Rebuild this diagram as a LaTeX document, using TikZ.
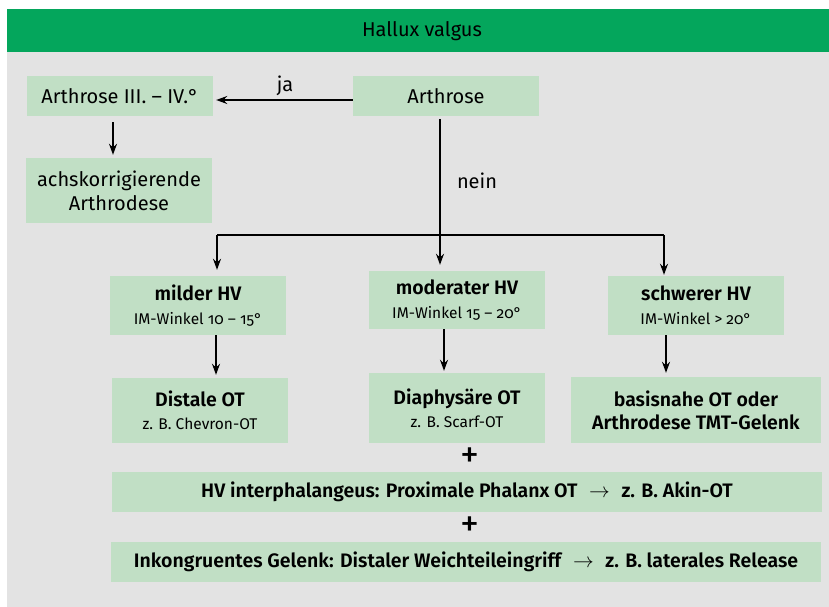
\documentclass[tikz,border=0pt]{standalone}
\usepackage{fontspec}
\setmainfont{Fira Sans}[Numbers=OldStyle, BoldFont={Fira Sans SemiBold}]
\usetikzlibrary{arrows.meta,calc}
\definecolor{hvgreen}{RGB}{4,166,92}
\definecolor{hvbox}{RGB}{193,223,197}
\definecolor{hvgrey}{RGB}{227,227,227}
\tikzset{
  box/.style={fill=hvbox, inner sep=0pt, align=center, anchor=center, text=black},
  arr/.style={line width=1.4pt, -{Stealth[length=11pt,width=8pt]}},
  ln/.style={line width=1.4pt},
  mainf/.style={font=\fontsize{20}{24}\selectfont},
  headf/.style={font=\fontsize{19.5}{23}\selectfont\bfseries},
  rowf/.style={font=\fontsize{19.5}{24}\selectfont\bfseries},
  lbl/.style={inner sep=0pt, font=\fontsize{20}{24}\selectfont},
  plusf/.style={inner sep=0pt, font=\fontsize{38}{38}\selectfont},
}
\newcommand{\hvsub}[1]{{\fontsize{15.5}{20}\selectfont\mdseries #1}}
\newcommand{\hvto}{\hspace{0.6em}$\rightarrow$\hspace{0.6em}}
\begin{document}
\begin{tikzpicture}[x=1pt,y=-1pt]
\useasboundingbox (0,0) rectangle (829,607);
\fill[hvgrey] (7,52) rectangle (829,607);
\fill[hvgreen] (7,9) rectangle (829,52);
\node[lbl] (title) at (422,31) {Hallux valgus};

\node[box, mainf, minimum width=186pt, minimum height=40pt] (a3) at (120,96) {Arthrose III. – IV.°};
\node[box, mainf, minimum width=186pt, minimum height=40pt] (arth) at (446,96) {Arthrose};
\node[box, mainf, minimum width=186pt, minimum height=65pt] (ach) at (119,190.5) {achskorrigierende\\Arthrodese};

\node[box, headf, minimum width=176pt, minimum height=59pt] (mild) at (198,305.5) {milder HV\\[1pt]\hvsub{IM-Winkel 10 – 15°}};
\node[box, headf, minimum width=176pt, minimum height=58pt] (mod) at (457,300) {moderater HV\\[1pt]\hvsub{IM-Winkel 15 – 20°}};
\node[box, headf, minimum width=176pt, minimum height=59pt] (schw) at (696,305.5) {schwerer HV\\[1pt]\hvsub{IM-Winkel > 20°}};

\node[box, headf, minimum width=176pt, minimum height=65pt] (dist) at (200,410.5) {Distale OT\\\hvsub{z. B. Chevron-OT}};
\node[box, headf, minimum width=176pt, minimum height=70pt] (diaph) at (457,408) {Diaphysäre OT\\\hvsub{z. B. Scarf-OT}};
\node[box, headf, minimum width=250pt, minimum height=66pt] (basis) at (696,410) {basisnahe OT oder\\Arthrodese TMT-Gelenk};

\node[box, rowf, minimum width=710pt, minimum height=40pt] (hvip) at (467,492) {HV interphalangeus: Proximale Phalanx OT\hvto z. B. Akin-OT};
\node[box, rowf, minimum width=710pt, minimum height=40pt] (ink) at (466,562) {Inkongruentes Gelenk: Distaler Weichteileingriff\hvto z. B. laterales Release};

\node[plusf] (p1) at (470,458) {+};
\node[plusf] (p2) at (470,527) {+};

\node[lbl] (ja) at (285,86) {ja};
\node[lbl] (nein) at (477,181) {nein};

\coordinate (split) at (440,235);
\coordinate (bl) at (217,235);
\coordinate (br) at (664,235);

\draw[arr] ([yshift=-4pt]arth.west) -- ([xshift=3pt,yshift=-4pt]a3.east);
\draw[arr] ([xshift=-7pt,yshift=-6pt]a3.south) -- ([xshift=-6pt,yshift=3pt]ach.north);
\draw[ln] ([xshift=-6pt,yshift=-3pt]arth.south) -- (split);
\draw[ln] (bl) -- (br);
\draw[arr] (bl) -- ([xshift=19pt,yshift=6pt]mild.north);
\draw[arr] (split) -- ([xshift=-17pt,yshift=6pt]mod.north);
\draw[arr] (br) -- ([xshift=-32pt,yshift=1pt]schw.north);
\draw[arr] ([xshift=18pt]mild.south) -- ([xshift=16pt,yshift=3pt]dist.north);
\draw[arr] ([xshift=-13pt]mod.south) -- ([xshift=-13pt,yshift=2pt]diaph.north);
\draw[arr] ([xshift=-30pt]schw.south) -- ([xshift=-30pt,yshift=4pt]basis.north);
\end{tikzpicture}
\end{document}
